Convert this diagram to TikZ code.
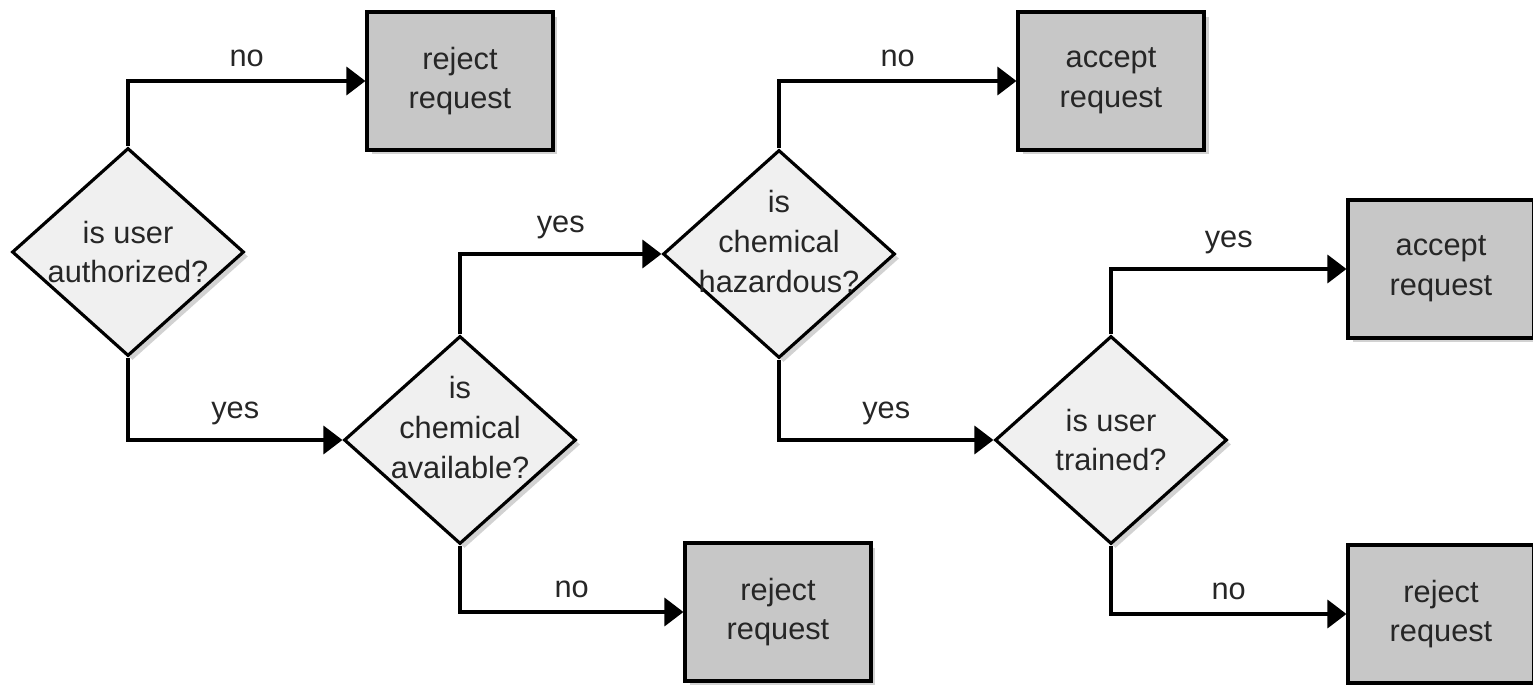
\documentclass[tikz,border=0pt]{standalone}
\usepackage{fontspec}
\setmainfont{Liberation Sans}
\usetikzlibrary{shapes.geometric,arrows.meta,shadows}

\begin{document}
\begin{tikzpicture}[
  x=0.02cm, y=-0.02cm,
  every node/.style={font=\fontsize{17.5}{22.5}\selectfont, text=black!85},
  decision/.style={
    diamond, draw, line width=1.8pt, fill=\colorisD,
    aspect=1.115, inner sep=0pt,
    minimum width=4.64cm, minimum height=4.16cm,
    drop shadow={shadow xshift=0.09cm, shadow yshift=-0.09cm, fill=\colorisS}
  },
  outcome/.style={
    rectangle, draw, line width=1.8pt, fill=\colorisB, align=center,
    minimum width=3.72cm, minimum height=2.76cm,
    drop shadow={shadow xshift=0.09cm, shadow yshift=-0.09cm, fill=\colorisS}
  },
  flow/.style={line width=2pt, -{Triangle[length=0.38cm, width=0.56cm]}},
  answer/.style={pos=0.75, above=4pt},
]
%-------------------------------------------------------------
\newcommand{\colorisD}{black!6}
\newcommand{\colorisB}{black!22}
\newcommand{\colorisS}{black!35}

\useasboundingbox (0,0) rectangle (1533,685);

%============================================================
\node[decision, label={[align=center]center:{is user\\authorized?}}] (authorized) at (128,252) {};
\node[decision, label={[align=center, yshift=0.25cm]center:{is\\chemical\\available?}}] (available) at (460,440) {};
\node[decision, label={[align=center, yshift=0.25cm]center:{is\\chemical\\hazardous?}}] (hazardous) at (779,254) {};
\node[decision, label={[align=center]center:{is user\\trained?}}] (trained) at (1111,440) {};
%============================================================
\node[outcome] (rejectA) at (460,81) {reject\\request};
\node[outcome] (acceptA) at (1111,81) {accept\\request};
\node[outcome] (acceptB) at (1441,269) {accept\\request};
\node[outcome] (rejectB) at (778,612) {reject\\request};
\node[outcome] (rejectC) at (1441,614) {reject\\request};
%============================================================

\draw[flow] (authorized.north) |- node[answer] {no} (rejectA.west);
\draw[flow] (authorized.south) |- node[answer] {yes} (available.west);

\draw[flow] (available.north) |- node[answer] {yes} (hazardous.west);
\draw[flow] (available.south) |- node[answer] {no} (rejectB.west);

\draw[flow] (hazardous.north) |- node[answer] {no} (acceptA.west);
\draw[flow] (hazardous.south) |- node[answer] {yes} (trained.west);

\draw[flow] (trained.north) |- node[answer] {yes} (acceptB.west);
\draw[flow] (trained.south) |- node[answer] {no} (rejectC.west);

\end{tikzpicture}
\end{document}
